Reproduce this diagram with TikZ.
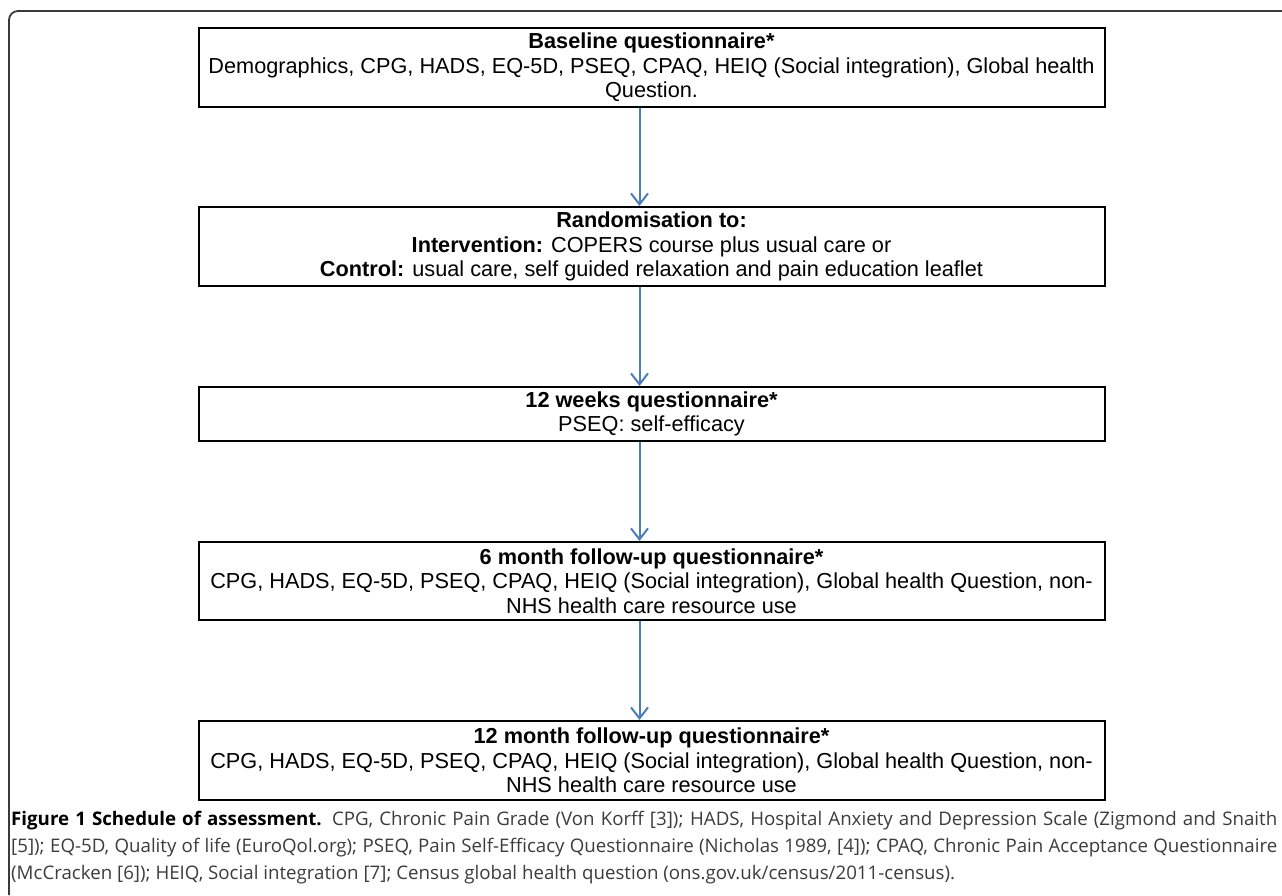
\documentclass[tikz,border=0pt]{standalone}
\usepackage{fontspec}
\setmainfont{Liberation Sans}
\newfontfamily\capfont{Open Sans}
\usetikzlibrary{arrows.meta}
\definecolor{arrowblue}{HTML}{4A7EBB}
\definecolor{framegray}{HTML}{3A3A3A}
\definecolor{captext}{HTML}{3C3C3C}
\tikzset{
  stepbox/.style={draw=black, line width=2pt, rectangle, minimum width=906pt, align=center, inner sep=0pt,
    font=\fontsize{21.7}{24.5}\selectfont},
  flowarrow/.style={draw=arrowblue, line width=2pt, -{Straight Barb[length=11pt,width=17pt,line width=2pt]}},
  capline/.style={anchor=base west, inner sep=0pt, text=captext, font=\capfont\fontsize{18.7}{26}\selectfont},
}
\begin{document}
\begin{tikzpicture}[x=1pt,y=-1pt]
\useasboundingbox (0,0) rectangle (1282,895);
\draw[framegray, line width=1.8pt, rounded corners=9pt] (9,895) -- (9,11) -- (1282,11);

\node[stepbox, minimum height=79pt] (b1) at (651.5,67.5) {\textbf{Baseline questionnaire*}\\Demographics, CPG, HADS, EQ-5D, PSEQ, CPAQ, HEIQ (Social integration), Global health\\Question.};
\node[stepbox, minimum height=79pt] (b2) at (651.5,246.5) {\textbf{Randomisation to:}\\\textbf{Intervention:} COPERS course plus usual care or\\\textbf{Control:} usual care, self guided relaxation and pain education leaflet};
\node[stepbox, minimum height=54pt] (b3) at (651.5,414) {\textbf{12 weeks questionnaire*}\\PSEQ: self-efficacy};
\node[stepbox, minimum height=78pt] (b4) at (651.5,581) {\textbf{6 month follow-up questionnaire*}\\CPG, HADS, EQ-5D, PSEQ, CPAQ, HEIQ (Social integration), Global health Question, non-\\NHS health care resource use};
\node[stepbox, minimum height=79pt] (b5) at (651.5,760.5) {\textbf{12 month follow-up questionnaire*}\\CPG, HADS, EQ-5D, PSEQ, CPAQ, HEIQ (Social integration), Global health Question, non-\\NHS health care resource use};

\coordinate (ax) at (639.5,0);
\draw[flowarrow] (b1.south -| ax) -- (b2.north -| ax);
\draw[flowarrow] (b2.south -| ax) -- (b3.north -| ax);
\draw[flowarrow] (b3.south -| ax) -- (b4.north -| ax);
\draw[flowarrow] (b4.south -| ax) -- (b5.north -| ax);

\node[capline] (c1) at (11,825) {\makebox[1266pt][s]{{\bfseries\color{black}Figure 1 Schedule of assessment.} CPG, Chronic Pain Grade (Von Korff [3]); HADS, Hospital Anxiety and Depression Scale (Zigmond and Snaith}};
\node[capline] (c2) at (11,852) {\makebox[1266pt][s]{[5]); EQ-5D, Quality of life (EuroQol.org); PSEQ, Pain Self-Efficacy Questionnaire (Nicholas 1989, [4]); CPAQ, Chronic Pain Acceptance Questionnaire}};
\node[capline] (c3) at (11,879) {(McCracken [6]); HEIQ, Social integration [7]; Census global health question (ons.gov.uk/census/2011-census).};
\end{tikzpicture}
\end{document}
